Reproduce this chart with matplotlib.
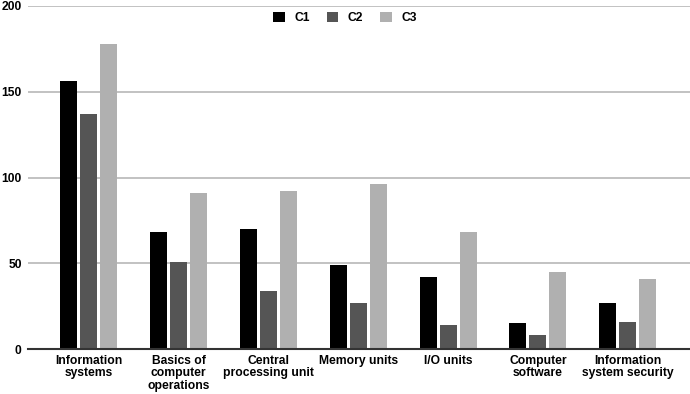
import matplotlib
matplotlib.use("Agg")
import matplotlib.pyplot as plt
import numpy as np

categories = ["Information\nsystems", "Basics of\ncomputer\noperations", "Central\nprocessing unit",
              "Memory units", "I/O units", "Computer\nsoftware", "Information\nsystem security"]
c1 = [156, 68, 70, 49, 42, 15, 27]
c2 = [137, 51, 34, 27, 14, 8, 16]
c3 = [178, 91, 92, 96, 68, 45, 41]
series_names = ["C1", "C2", "C3"]
colors = ["#000000", "#555555", "#b0b0b0"]
yticks = [0, 50, 100, 150, 200]

plt.rcParams['font.family'] = ['Liberation Sans', 'DejaVu Sans']
fs = 8.7
fig = plt.figure(figsize=(6.9, 3.94), dpi=100)
ax = fig.add_axes([28/690, 1-349/394, 662/690, 343/394])

x = np.arange(len(categories))
step = 20/89.8
w = 17/89.8
for i, (vals, name, col) in enumerate(zip([c1, c2, c3], series_names, colors)):
    ax.bar(x + (i-1)*step, vals, width=w, color=col, label=name, zorder=3)

ax.set_ylim(0, 200)
ax.set_xlim(-0.679, 6.693)
ax.set_yticks(yticks)
ax.set_yticklabels([str(t) for t in yticks], fontsize=fs, fontweight='bold')
ax.set_xticks(x)
ax.set_xticklabels(categories, fontsize=fs, fontweight='bold', linespacing=1.1)
ax.tick_params(axis='x', length=0, pad=4)
ax.tick_params(axis='y', length=0, pad=4.5)
ax.yaxis.grid(True, color="#b8b8b8", linewidth=1.2, zorder=0)
for s in ['top', 'right', 'left']:
    ax.spines[s].set_visible(False)
ax.spines['bottom'].set_color('#333333')
ax.spines['bottom'].set_linewidth(1.5)
ax.spines['bottom'].set_zorder(4)

leg = ax.legend(loc='center', bbox_to_anchor=((345-28)/662, 1 - 12/343), ncol=3, frameon=False,
                prop={'size': fs, 'weight': 'bold'}, handlelength=0.95, handleheight=0.95,
                columnspacing=1.4, handletextpad=0.8, borderpad=0)

fig.savefig("out.png", dpi=100)
